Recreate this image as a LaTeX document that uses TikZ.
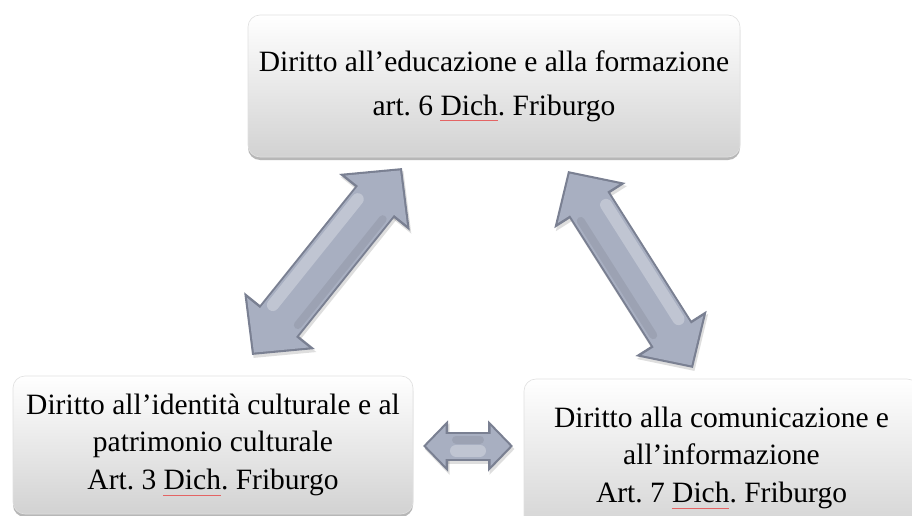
\documentclass[tikz,border=0pt]{standalone}
\usepackage{fontspec}
\setmainfont{Liberation Serif}
\usetikzlibrary{arrows.meta,calc,shadows}
\definecolor{arrdark}{RGB}{122,128,146}
\definecolor{arrface}{RGB}{168,175,193}
\definecolor{boxbot}{RGB}{210,210,210}
\definecolor{spellred}{RGB}{228,100,100}
\newcommand\twoway[6]{%
  \pgfmathsetmacro\twS{#3-4}%
  \pgfmathsetmacro\twW{#4-11}%
  \pgfmathsetmacro\twL{#5-5.5}%
  \pgfmathsetmacro\twA{#5+8}%
  \pgfmathsetmacro\twO{#3/2-10}%
  \pgfmathsetmacro\twD{#3/2-8}%
  \pgfmathsetmacro\twB{-(#6)}%
  \draw[arrshadow, line width=#3pt, {Triangle[length=#5pt,width=#4pt]}-{Triangle[length=#5pt,width=#4pt]}] (#1) -- (#2);
  \draw[arrdark, line width=#3pt, {Triangle[length=#5pt,width=#4pt]}-{Triangle[length=#5pt,width=#4pt]}] (#1) -- (#2);
  \draw[arrface, line width=\twS pt, shorten <=3pt, shorten >=3pt, {Triangle[length=\twL pt,width=\twW pt]}-{Triangle[length=\twL pt,width=\twW pt]}] (#1) -- (#2);
  \draw[arrhl, line width=12pt] ($($(#1)!\twA pt!(#2)$)!\twO pt!#6:(#2)$) -- ($($(#2)!\twA pt!(#1)$)!\twO pt!\twB:(#1)$);
  \draw[arrlow, line width=8pt] ($($(#1)!\twA pt!(#2)$)!\twD pt!\twB:(#2)$) -- ($($(#2)!\twA pt!(#1)$)!\twD pt!#6:(#1)$);
}
\begin{document}
\begin{tikzpicture}[x=1pt,y=-1pt,
  box/.style={rectangle, rounded corners=12pt, inner sep=0pt,
    top color=white, bottom color=boxbot, draw=black!12, line width=0.6pt,
    drop shadow={shadow xshift=0pt, shadow yshift=-3pt, opacity=0.4, fill=black!70}},
  txt/.style={inner sep=0pt, align=center, text=black,
    font=\fontsize{29.5pt}{36.5pt}\selectfont\frenchspacing},
  spell/.style={draw=spellred, line width=1.2pt},
  arrshadow/.style={draw=black, opacity=0.13, transform canvas={shift={(1.5pt,-3pt)}}},
  arrhl/.style={draw=white, opacity=0.28, line cap=round},
  arrlow/.style={draw=black, opacity=0.07, line cap=round}]
\useasboundingbox (0,0) rectangle (912,516);
\clip (0,0) rectangle (912,516);
\fill[white] (0,0) rectangle (912,516);

\node[box, minimum width=492pt, minimum height=142pt] (edu) at (494,86) {};
\node[box, minimum width=400pt, minimum height=138pt] (ident) at (213,445) {};
\node[box, minimum width=395pt, minimum height=158pt] (comm) at (721.5,458) {};

\node[txt] (eduT) at (edu.center)
  {Diritto all’educazione e alla formazione\\[7.5pt]art. 6 Dich. Friburgo};
\node[txt] (identT) at (ident.center)
  {Diritto all’identità culturale e al\\[0.5pt]patrimonio culturale\\[1.5pt]Art. 3 Dich. Friburgo};
\node[txt] (commT) at (comm.center)
  {Diritto alla comunicazione e\\[0.5pt]all’informazione\\[1.5pt]Art. 7 Dich. Friburgo};

\draw[spell] ([xshift=-53.7pt,yshift=1pt]eduT.south) -- ([xshift=3.7pt,yshift=1pt]eduT.south);
\draw[spell] ([xshift=-49.6pt,yshift=1pt]identT.south) -- ([xshift=7.8pt,yshift=1pt]identT.south);
\draw[spell] ([xshift=-49.6pt,yshift=1pt]commT.south) -- ([xshift=7.8pt,yshift=1pt]commT.south);

\coordinate (L1) at (252,355);
\coordinate (L2) at (402,168);
\coordinate (R1) at (568,171);
\coordinate (R2) at (693,368);
\coordinate (H1) at (423,446);
\coordinate (H2) at (513,446);

\twoway{L1}{L2}{50}{88}{44}{90}
\twoway{R1}{R2}{48}{82}{41}{90}
\twoway{H1}{H2}{29}{50}{25}{-90}
\end{tikzpicture}
\end{document}
